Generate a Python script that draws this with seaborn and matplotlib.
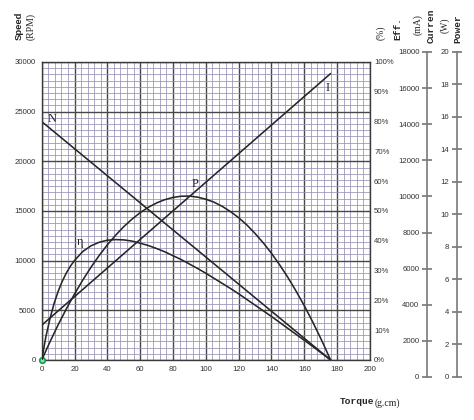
import matplotlib
matplotlib.use("Agg")
import matplotlib.pyplot as plt
from matplotlib.ticker import MultipleLocator
import seaborn as sns

# ---- data ----
speed_torque = [0, 176]
speed_rpm = [24000, 0]

current_torque = [0, 176]
current_ma = [2100, 17300]

power_torque = [0, 5, 10, 15, 20, 25, 30, 35, 40, 45, 50, 55, 60, 65, 70, 75, 80, 85, 90,
                95, 100, 105, 110, 115, 120, 125, 130, 135, 140, 145, 150, 155, 160, 165, 170, 172, 176]
power_w = [0, 1.21, 2.36, 3.43, 4.43, 5.36, 6.22, 7.01, 7.73, 8.37, 8.95, 9.45, 9.89, 10.25,
           10.54, 10.76, 10.91, 10.99, 11.0, 10.93, 10.79, 10.59, 10.31, 9.96, 9.55, 9.06,
           8.49, 7.86, 7.16, 6.38, 5.54, 4.62, 3.64, 2.58, 1.45, 0.98, 0]

eff_torque = [0, 2.5, 5, 7.5, 10, 12.5, 15, 17.5, 20, 25, 30, 35, 40, 45, 50, 55, 60, 65, 70,
              75, 80, 85, 90, 95, 100, 105, 110, 115, 120, 125, 130, 135, 140, 145, 150, 155,
              160, 165, 170, 172, 176]
eff_pct = [0, 7.7, 13.8, 18.9, 23.0, 26.4, 29.2, 31.5, 33.4, 36.4, 38.3, 39.5, 40.2, 40.4,
           40.3, 39.9, 39.2, 38.4, 37.4, 36.3, 35.0, 33.7, 32.2, 30.7, 29.1, 27.4, 25.7, 24.0,
           22.2, 20.3, 18.4, 16.5, 14.6, 12.6, 10.6, 8.6, 6.6, 4.6, 2.5, 1.7, 0]

torque_ticks = list(range(0, 201, 20))
speed_ticks = list(range(0, 30001, 5000))
eff_ticks = list(range(0, 101, 10))
current_ticks = list(range(0, 18001, 2000))
power_ticks = list(range(0, 21, 2))

sns.set_style("white")
plt.rcParams["font.family"] = ["Liberation Sans", "DejaVu Sans"]

line_c = "#262626"
tick_fs = 5.6

fig = plt.figure(figsize=(4.74, 4.2), dpi=100)
ax = fig.add_axes([0.088, 0.1429, 0.6925, 0.7095])

# grid
ax.set_xlim(0, 200)
ax.set_ylim(0, 30000)
ax.set_xticks(torque_ticks)
ax.set_yticks(speed_ticks)
ax.xaxis.set_minor_locator(MultipleLocator(4))
ax.yaxis.set_minor_locator(MultipleLocator(625))
ax.grid(which="minor", color="#9890b4", lw=0.55)
ax.grid(which="major", color="#474747", lw=1.0)
ax.set_axisbelow(True)
for s in ax.spines.values():
    s.set_color("#3a3a3a")
    s.set_linewidth(1.0)
ax.tick_params(which="both", length=0, labelsize=tick_fs, colors="#333333", pad=4)
ax.set_xlabel("")
ax.set_ylabel("")

# speed line
sns.lineplot(x=speed_torque, y=speed_rpm, ax=ax, color=line_c, lw=1.15)

# efficiency (right labels on plot edge)
ax_eff = ax.twinx()
ax_eff.set_ylim(0, 100)
ax_eff.set_yticks(eff_ticks)
ax_eff.set_yticklabels([f"{v}%" for v in eff_ticks])
ax_eff.tick_params(length=0, labelsize=tick_fs, colors="#333333", pad=3)
for s in ax_eff.spines.values():
    s.set_visible(False)
sns.lineplot(x=eff_torque, y=eff_pct, ax=ax_eff, color=line_c, lw=1.15)
ax_eff.set_ylabel("")

# current and power curves on hidden twins
ax_i = ax.twinx()
ax_i.set_ylim(0, 18000)
ax_i.axis("off")
sns.lineplot(x=current_torque, y=current_ma, ax=ax_i, color=line_c, lw=1.15)

ax_p = ax.twinx()
ax_p.set_ylim(0, 20)
ax_p.axis("off")
sns.lineplot(x=power_torque, y=power_w, ax=ax_p, color=line_c, lw=1.15)

# origin marker
ax.plot([0], [0], marker="o", ms=4, mfc="#8fdcaa", mec="#149b4a", mew=1.2, clip_on=False, zorder=10)

# curve labels
serif = ["Liberation Serif", "DejaVu Serif"]
ax.text(6.5, 24300, "N", family=serif, fontsize=9, color=line_c, ha="center", va="center")
ax.text(174, 27400, "I", family=serif, fontsize=9, color=line_c, ha="center", va="center")
ax.text(93.5, 17700, "P", family=serif, fontsize=9, color=line_c, ha="center", va="center")
ax.text(23.5, 11900, "η", family=serif, fontsize=9, color=line_c, ha="center", va="center")

# separate scales for current and power
def side_scale(xpos, ymax, ticks):
    a = fig.add_axes([xpos, 0.1024, 0.0001, 0.774])
    a.set_ylim(0, ymax)
    a.set_yticks(ticks)
    a.set_xticks([])
    a.patch.set_visible(False)
    for k in ("top", "right", "bottom"):
        a.spines[k].set_visible(False)
    a.spines["left"].set_color("#7a7a7a")
    a.spines["left"].set_linewidth(1.2)
    a.tick_params(axis="y", left=True, right=False, direction="inout", length=7, width=1.1,
                  color="#6a6a6a", labelsize=tick_fs, labelcolor="#333333", pad=2)
    return a

side_scale(0.901, 18000, current_ticks)
side_scale(0.964, 20, power_ticks)

# axis titles
mono = ["Liberation Mono", "DejaVu Sans Mono"]
fig.text(0.040, 0.905, "Speed", rotation=90, fontsize=6.8, weight="bold", ha="center", va="bottom")
fig.text(0.066, 0.905, "(RPM)", rotation=90, fontsize=7, family=serif, ha="center", va="bottom")
fig.text(0.804, 0.905, "(%)", rotation=90, fontsize=7, family=serif, ha="center", va="bottom")
fig.text(0.840, 0.905, "Eff.", rotation=90, fontsize=6.8, family=mono, weight="bold", ha="center", va="bottom")
fig.text(0.882, 0.917, "(mA)", rotation=90, fontsize=7, family=serif, ha="center", va="bottom")
fig.text(0.909, 0.898, "Curren", rotation=90, fontsize=6.8, family=mono, weight="bold", ha="center", va="bottom")
fig.text(0.939, 0.921, "(W)", rotation=90, fontsize=7, family=serif, ha="center", va="bottom")
fig.text(0.966, 0.898, "Power", rotation=90, fontsize=6.8, family=mono, weight="bold", ha="center", va="bottom")
fig.text(0.717, 0.045, "Torque", fontsize=6.8, family=mono, weight="bold", ha="left", va="center")
fig.text(0.790, 0.040, "(g.cm)", fontsize=7, family=serif, ha="left", va="center")

fig.savefig("out.png", dpi=100)
